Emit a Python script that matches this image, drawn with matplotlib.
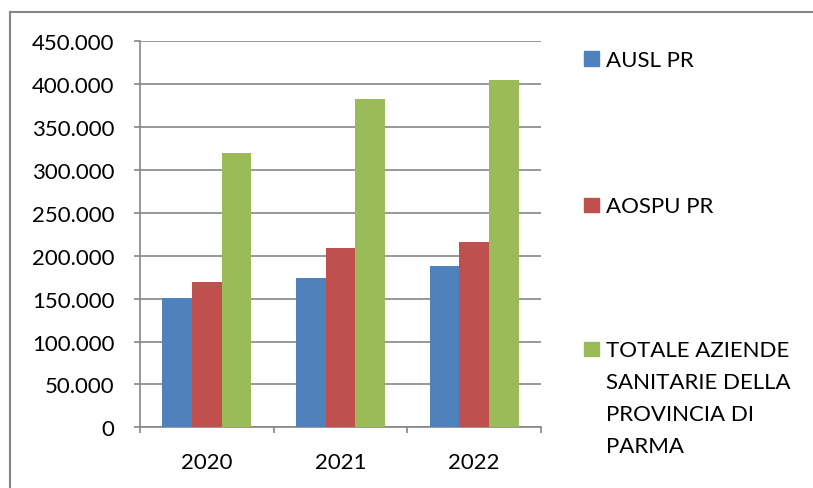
import numpy as np
import matplotlib
matplotlib.use("Agg")
import matplotlib.pyplot as plt
from matplotlib.lines import Line2D
from matplotlib.patches import Rectangle
from matplotlib.ticker import FuncFormatter, FixedLocator

plt.rcParams["font.family"] = ["Lato", "DejaVu Sans"]

# Dati per anno
anni = ["2020", "2021", "2022"]
serie = ["AUSL PR", "AOSPU PR", "TOTALE AZIENDE\nSANITARIE DELLA\nPROVINCIA DI\nPARMA"]
ausl = [150500, 173700, 188500]
aospu = [169800, 208600, 215700]
totale = [319700, 382300, 404500]
colori = ["#4F81BD", "#C0504D", "#9BBB59"]
grigio = "#868686"

W, H = 813, 489
fig = plt.figure(figsize=(W / 100, H / 100), dpi=100)
ax = fig.add_axes([140 / W, 1 - 428.3 / H, (541 - 140) / W, (428.3 - 42.3) / H])

x = np.arange(len(anni))
larg = 0.2222
for i, (valori, col) in enumerate(zip([ausl, aospu, totale], colori)):
    ax.bar(x + (i - 1) * larg, valori, width=larg, color=col, zorder=3)

ax.set_xlim(-0.5, 2.5)
ax.set_ylim(0, 450000)
ax.yaxis.set_major_locator(FixedLocator(np.arange(0, 450001, 50000)))
ax.yaxis.set_major_formatter(FuncFormatter(lambda v, p: f"{int(v):,}".replace(",", ".")))
ax.grid(axis="y", color=grigio, linewidth=1.2, zorder=1)

ax.set_xticks(x)
ax.set_xticklabels(anni)
ax.set_xticks([-0.5, 0.5, 1.5, 2.5], minor=True)
ax.tick_params(axis="x", which="major", length=0, pad=17.5, labelsize=16)
ax.tick_params(axis="x", which="minor", length=4.5, width=1.2, color=grigio, direction="out")
ax.tick_params(axis="y", length=4.5, width=1.2, color=grigio, pad=14, labelsize=16)

for lato in ["top", "right"]:
    ax.spines[lato].set_visible(False)
for lato in ["left", "bottom"]:
    ax.spines[lato].set_color(grigio)
    ax.spines[lato].set_linewidth(1.2)

# Legenda a destra
pos_y = [60, 206, 350]
for nome, col, py in zip(serie, colori, pos_y):
    fig.add_artist(Rectangle((584 / W, 1 - (py + 7) / H), 14.5 / W, 14.5 / H,
                             transform=fig.transFigure, color=col))
    fig.text(606 / W, 1 - (py - 9) / H, nome, fontsize=16, va="top", ha="left",
             linespacing=1.75)

# Cornice esterna
fig.add_artist(Line2D([10 / W, 10 / W], [1 - 13 / H, 0], color=grigio, linewidth=1.5,
                      transform=fig.transFigure))
fig.add_artist(Line2D([10 / W, 1], [1 - 13 / H, 1 - 13 / H], color=grigio, linewidth=1.5,
                      transform=fig.transFigure))

fig.savefig("out.png", dpi=100, facecolor="white")
